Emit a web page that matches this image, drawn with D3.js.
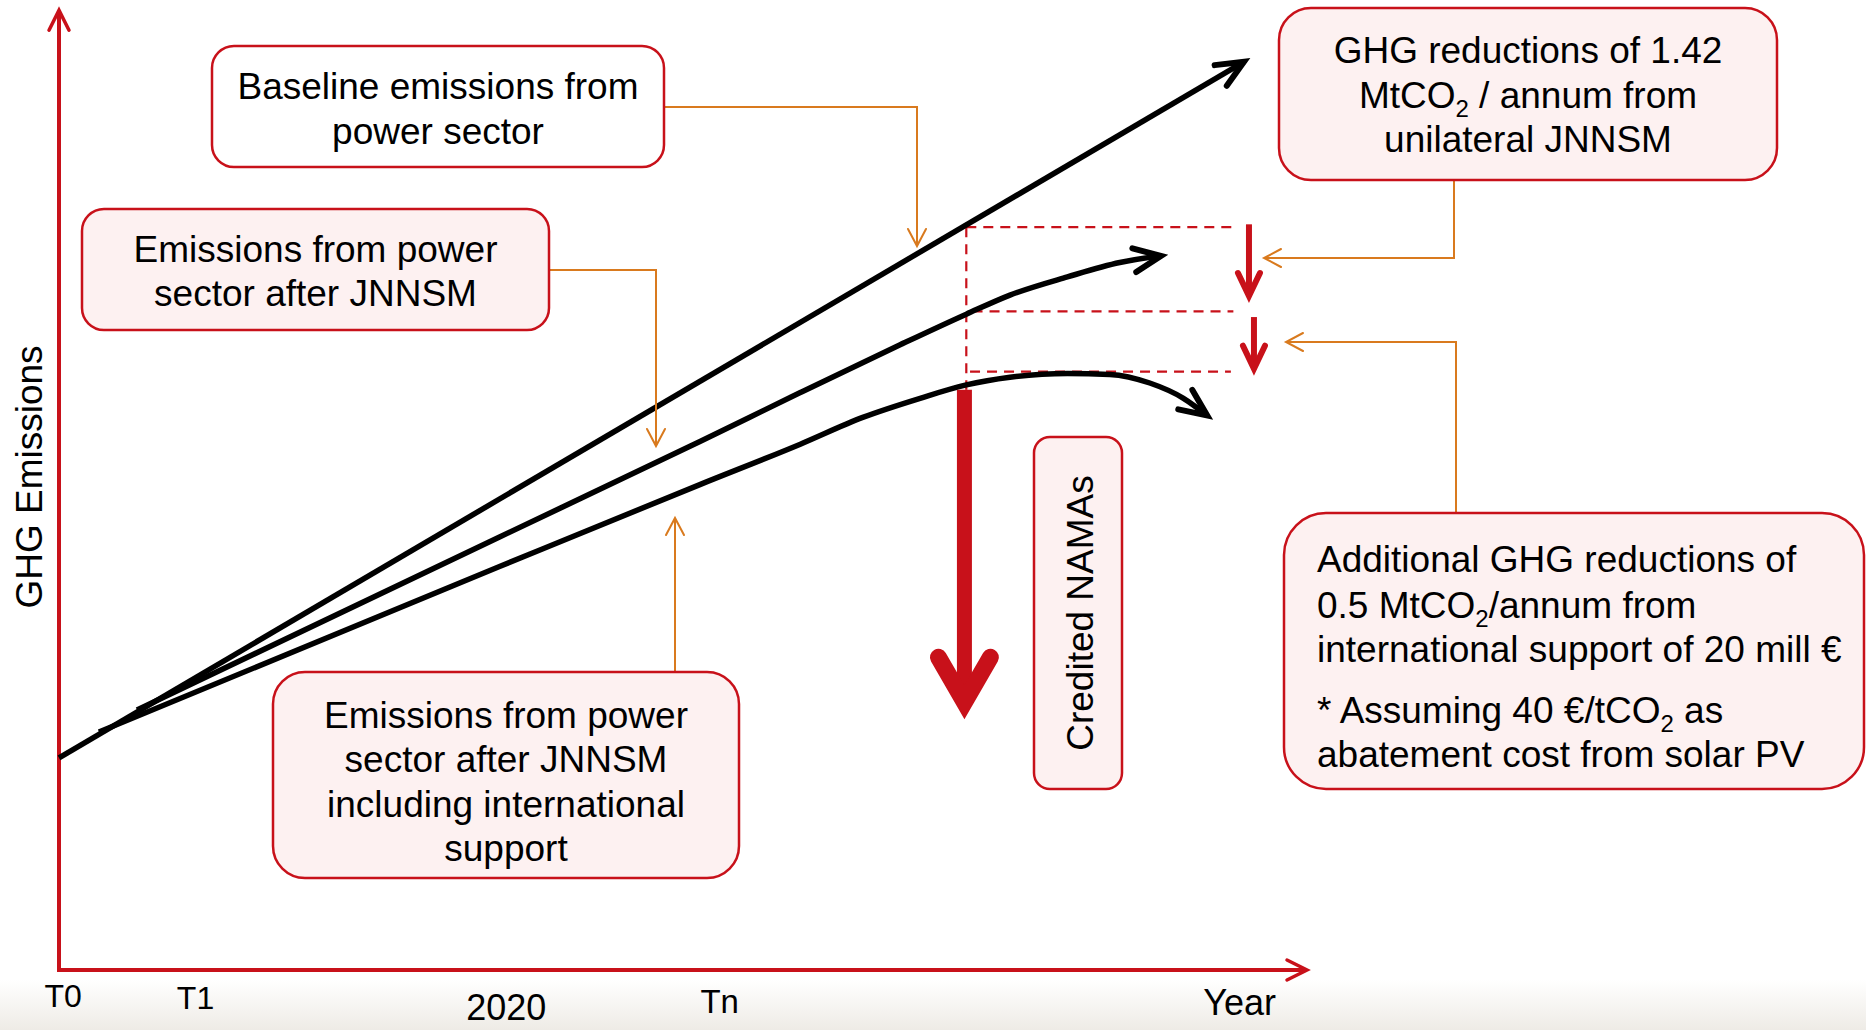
<!DOCTYPE html>
<html>
<head>
<meta charset="utf-8">
<script src="https://cdn.jsdelivr.net/npm/d3@7"></script>
<style>
body { margin: 0; background: #fff; }
text { font-family: "Liberation Sans", Arial, sans-serif; fill: #000; }
</style>
</head>
<body>
<div id="chart"></div>
<script>
// schematic trajectories: x = time index (0-100), y = emissions index (0-100)
var baselineX = [0, 94.95];
var baselineY = [22.2, 95.0];
var jnnsmX = [6.25, 35.3, 51.4, 59.4, 67.4, 72.7, 76.2, 80.8, 85.0, 88.3];
var jnnsmY = [27.2, 45.3, 55.3, 60.4, 65.4, 68.6, 70.6, 72.5, 74.0, 74.7];
var intlX = [3.2, 35.3, 51.4, 59.4, 64.4, 69.0, 72.7, 76.2, 80.8, 84.2, 87.4, 90.1, 92.0];
var intlY = [24.9, 42.2, 50.8, 55.0, 57.8, 59.8, 61.2, 62.0, 62.4, 62.3, 61.4, 59.8, 58.0];

var tickLabels = ["T0", "T1", "2020", "Tn"];
var tickX = [0.3, 10.9, 35.8, 52.9];

// dashed guide levels and the reduction arrows between them
var levelY = [77.7, 68.9, 62.6];
var levelStartX = [72.7, 73.2, 73.0];
var levelEndX = [94.0, 94.1, 93.9];
var reductionX = [95.35, 95.75];
var reductionFrom = [78.0, 68.3];
var reductionTo = [70.5, 62.9];
var creditedX = 72.55, creditedFrom = 60.7, creditedTo = 28.0;

var boxBaseline = ["Baseline emissions from", "power sector"];
var boxJnnsm = ["Emissions from power", "sector after JNNSM"];
var boxIntl = ["Emissions from power", "sector after JNNSM", "including international", "support"];
var boxUnilateral = ["GHG reductions of 1.42", "MtCO_2 / annum from", "unilateral JNNSM"];
var boxAdditional = ["Additional GHG reductions of", "0.5 MtCO_2/annum from", "international support of 20 mill \u20ac",
                     "* Assuming 40 \u20ac/tCO_2 as", "abatement cost from solar PV"];

var RED = "#c8111a", ORANGE = "#d97a1e", PINK = "#fdf1f1";

var svgWidth = 1866, svgHeight = 1030;

var svg = d3.select("#chart")
.append("svg")
.attr("width", svgWidth)
.attr("height", svgHeight);

// faint grey strip along the bottom
var grad = svg.append("defs").append("linearGradient")
  .attr("id", "foot").attr("x1", 0).attr("y1", 0).attr("x2", 0).attr("y2", 1);
grad.append("stop").attr("offset", 0).attr("stop-color", "#ffffff");
grad.append("stop").attr("offset", 1).attr("stop-color", "#eeebe6");
svg.append("rect").attr("x", 0).attr("y", 980).attr("width", svgWidth).attr("height", 50)
  .attr("fill", "url(#foot)");

var xScale = d3.scaleLinear().domain([0, 100]).range([59, 1307]);
var yScale = d3.scaleLinear().domain([0, 100]).range([970, 14]);

function chevron(g, x1, y1, x2, y2, len, half, color, w) {
  var a = Math.atan2(y2 - y1, x2 - x1);
  var ux = Math.cos(a), uy = Math.sin(a);
  var px = -uy, py = ux;
  var p = d3.path();
  p.moveTo(x2 - ux * len + px * half, y2 - uy * len + py * half);
  p.lineTo(x2, y2);
  p.lineTo(x2 - ux * len - px * half, y2 - uy * len - py * half);
  g.append("path").attr("d", p.toString())
    .attr("fill", "none").attr("stroke", color).attr("stroke-width", w)
    .attr("stroke-linecap", "round").attr("stroke-linejoin", "miter");
}

// axes
var xAxis = svg.append("g")
  .attr("transform", `translate(0, ${yScale(0)})`)
  .call(d3.axisBottom(xScale).tickValues(tickX).tickFormat(function (d, i) { return tickLabels[i]; })
    .tickSize(0).tickSizeOuter(0));
xAxis.select(".domain").attr("stroke", RED).attr("stroke-width", 4)
  .attr("d", `M${xScale(0) - 2},0H${xScale(100)}`);
var tickOff = [37, 39, 50, 43], tickSize = [32, 32, 36, 33];
xAxis.selectAll(".tick text")
  .attr("dy", null)
  .attr("y", function (d, i) { return tickOff[i]; })
  .attr("font-size", function (d, i) { return tickSize[i]; })
  .attr("font-family", "Liberation Sans, Arial, sans-serif")
  .attr("fill", "#000");

var yAxis = svg.append("g")
  .attr("transform", `translate(${xScale(0)}, 0)`)
  .call(d3.axisLeft(yScale).tickValues([]).tickSizeOuter(0));
yAxis.select(".domain").attr("stroke", RED).attr("stroke-width", 4)
  .attr("d", `M0,${yScale(0) + 2}V${yScale(100.4)}`);

var axG = svg.append("g");
chevron(axG, xScale(0), yScale(50), xScale(0), yScale(100.4), 20, 10, RED, 3.5);
chevron(axG, xScale(50), yScale(0), xScale(100), yScale(0), 20, 10, RED, 3.5);

svg.append("text").attr("x", xScale(94.6)).attr("y", 1015)
  .attr("text-anchor", "middle").attr("font-size", 36).text("Year");

svg.append("text")
  .attr("transform", "translate(29, 477) rotate(-90)")
  .attr("text-anchor", "middle").attr("dy", "0.35em")
  .attr("font-size", 37).text("GHG Emissions");

// dashed guides
var guides = svg.append("g").attr("stroke", RED).attr("stroke-width", 2.2)
  .attr("stroke-dasharray", "10,7").attr("fill", "none");
levelY.forEach(function (v, i) {
  guides.append("line")
    .attr("x1", xScale(levelStartX[i])).attr("x2", xScale(levelEndX[i]))
    .attr("y1", yScale(v)).attr("y2", yScale(v));
});
guides.append("line")
  .attr("x1", xScale(levelStartX[0])).attr("x2", xScale(levelStartX[0]))
  .attr("y1", yScale(levelY[0])).attr("y2", yScale(creditedFrom));

// emission paths
var line = d3.line()
  .x(function (d) { return xScale(d[0]); })
  .y(function (d) { return yScale(d[1]); })
  .curve(d3.curveMonotoneX);

var series = [d3.zip(baselineX, baselineY), d3.zip(jnnsmX, jnnsmY), d3.zip(intlX, intlY)];
var lineG = svg.append("g");
series.forEach(function (s) {
  lineG.append("path")
    .datum(s)
    .attr("fill", "none")
    .attr("stroke", "#000")
    .attr("stroke-width", 5.5)
    .attr("d", line);
  var a = s[s.length - 2], b = s[s.length - 1];
  chevron(lineG, xScale(a[0]), yScale(a[1]), xScale(b[0]), yScale(b[1]), 27, 12, "#000", 6);
});

// reduction arrows
var redG = svg.append("g");
reductionX.forEach(function (x, i) {
  redG.append("line")
    .attr("x1", xScale(x)).attr("x2", xScale(x))
    .attr("y1", yScale(reductionFrom[i])).attr("y2", yScale(reductionTo[i]) - 4)
    .attr("stroke", RED).attr("stroke-width", 6);
  chevron(redG, xScale(x), yScale(reductionFrom[i]), xScale(x), yScale(reductionTo[i]), 23, 11, RED, 6);
});
redG.append("line")
  .attr("x1", xScale(creditedX)).attr("x2", xScale(creditedX))
  .attr("y1", yScale(creditedFrom)).attr("y2", yScale(creditedTo) - 8)
  .attr("stroke", RED).attr("stroke-width", 15);
chevron(redG, xScale(creditedX), yScale(creditedFrom), xScale(creditedX), yScale(creditedTo), 45, 26, RED, 17);

// orange call-out connectors
var conG = svg.append("g").attr("fill", "none").attr("stroke", ORANGE).attr("stroke-width", 2);
var connectors = [
  [[664, 107], [917, 107], [917, 246]],
  [[549, 270], [656, 270], [656, 446]],
  [[675, 672], [675, 518]],
  [[1454, 180], [1454, 258], [1264, 258]],
  [[1456, 512], [1456, 342], [1286, 342]]
];
connectors.forEach(function (c) {
  conG.append("path").attr("d", d3.line()(c));
  var a = c[c.length - 2], b = c[c.length - 1];
  chevron(conG, a[0], a[1], b[0], b[1], 17, 9, ORANGE, 2);
});

// call-out boxes
function subText(txt, str) {
  var parts = str.split("_2");
  parts.forEach(function (p, i) {
    var t = txt.append("tspan").text(p);
    if (i > 0) t.attr("dy", -9);
    if (i < parts.length - 1) txt.append("tspan").attr("font-size", 24).attr("dy", 9).text("2");
  });
}

function box(x, y, w, h, r, fill, lines, lineY, anchor, tx) {
  var g = svg.append("g");
  g.append("rect").attr("x", x).attr("y", y).attr("width", w).attr("height", h)
    .attr("rx", r).attr("ry", r)
    .attr("fill", fill).attr("stroke", RED).attr("stroke-width", 2.5);
  lines.forEach(function (l, i) {
    var t = g.append("text")
      .attr("x", tx === undefined ? x + w / 2 : tx)
      .attr("y", lineY[i])
      .attr("dy", "0.35em")
      .attr("text-anchor", anchor)
      .attr("font-size", 37);
    subText(t, l);
  });
  return g;
}

box(212, 46, 452, 121, 22, "#fff", boxBaseline, [86, 131], "middle");
box(82, 209, 467, 121, 22, PINK, boxJnnsm, [249, 293], "middle");
box(273, 672, 466, 206, 32, PINK, boxIntl, [715, 759, 804, 848], "middle");
box(1279, 8, 498, 172, 32, PINK, boxUnilateral, [50, 95, 139], "middle");
box(1284, 513, 580, 276, 42, PINK, boxAdditional, [559, 605, 649, 710, 754], "start", 1317);

var nama = svg.append("g");
nama.append("rect").attr("x", 1034).attr("y", 437).attr("width", 88).attr("height", 352)
  .attr("rx", 16).attr("ry", 16)
  .attr("fill", PINK).attr("stroke", RED).attr("stroke-width", 2.5);
nama.append("text")
  .attr("transform", "translate(1080, 613) rotate(-90)")
  .attr("text-anchor", "middle").attr("dy", "0.35em")
  .attr("font-size", 37).text("Credited NAMAs");
</script>
</body>
</html>
